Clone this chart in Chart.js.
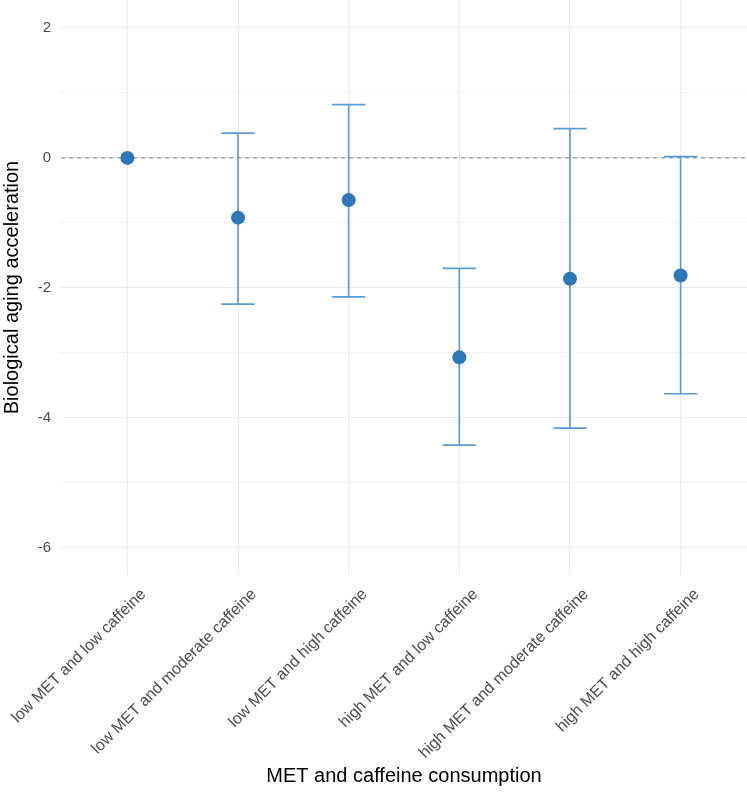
<!DOCTYPE html>
<html>
<head>
<meta charset="utf-8">
<script src="https://cdn.jsdelivr.net/npm/chart.js@4/dist/chart.umd.min.js"></script>
<style>
  html, body { margin: 0; padding: 0; background: #fff; }
</style>
</head>
<body>
<canvas id="appChart" width="747" height="792"></canvas>
<script>
// 데이터
//--------------------------------------------------------//
const categories = [
  'low MET and low caffeine',
  'low MET and moderate caffeine',
  'low MET and high caffeine',
  'high MET and low caffeine',
  'high MET and moderate caffeine',
  'high MET and high caffeine'
];
const estimates = [0, -0.92, -0.65, -3.07, -1.86, -1.81];
const lowerCI   = [null, -2.25, -2.14, -4.42, -4.16, -3.63];
const upperCI   = [null, 0.38, 0.82, -1.70, 0.45, 0.02];
const yTicks    = [-6, -5, -4, -3, -2, -1, 0, 1, 2];

// 색상
const POINT_COLOR = '#2c78b8';
const BAR_COLOR   = '#5b9bd5';
const GRID_COLOR  = '#ebebeb';
const TEXT_COLOR  = '#4d4d4d';
const FONT        = 'Liberation Sans, Arial, sans-serif';

// 기준선(0) + 오차막대 플러그인
//--------------------------------------------------------//
const errorBarPlugin = {
  id: 'errorBars',
  beforeDatasetsDraw(chart) {
    const ctx = chart.ctx;
    const area = chart.chartArea;
    const x = chart.scales.x;
    const y = chart.scales.y;

    ctx.save();
    // 0 기준 점선
    const y0 = y.getPixelForValue(0);
    ctx.strokeStyle = '#808080';
    ctx.lineWidth = 1;
    ctx.setLineDash([4, 4]);
    ctx.beginPath();
    ctx.moveTo(area.left, y0);
    ctx.lineTo(area.right, y0);
    ctx.stroke();
    ctx.setLineDash([]);

    // 오차막대
    const half = (x.getPixelForValue(1) - x.getPixelForValue(0)) * 0.15;
    ctx.strokeStyle = BAR_COLOR;
    ctx.lineWidth = 1.7;
    categories.forEach(function(c, i) {
      if (lowerCI[i] == null) return;
      const px = x.getPixelForValue(i);
      const lo = y.getPixelForValue(lowerCI[i]);
      const hi = y.getPixelForValue(upperCI[i]);
      ctx.beginPath();
      ctx.moveTo(px, lo); ctx.lineTo(px, hi);
      ctx.moveTo(px - half, lo); ctx.lineTo(px + half, lo);
      ctx.moveTo(px - half, hi); ctx.lineTo(px + half, hi);
      ctx.stroke();
    });
    ctx.restore();
  }
};

new Chart(document.getElementById('appChart'), {
  type: 'scatter',
  data: {
    datasets: [{
      label: 'estimate',
      data: estimates.map(function(v, i) { return {x: i, y: v}; }),
      pointRadius: 7,
      pointHoverRadius: 7,
      pointBackgroundColor: POINT_COLOR,
      pointBorderWidth: 0
    }]
  },
  options: {
    responsive: false,
    animation: false,
    layout: { padding: 0, autoPadding: false },
    plugins: {
      legend: { display: false },
      tooltip: { enabled: false }
    },
    scales: {
      x: {
        type: 'linear',
        min: -0.6,
        max: 5.6,
        afterBuildTicks: function(axis) {
          axis.ticks = categories.map(function(c, i) { return {value: i}; });
        },
        afterFit: function(axis) {
          axis.height = 217;
          axis.paddingLeft = 0;
          axis.paddingRight = 0;
        },
        grid: { color: GRID_COLOR, lineWidth: 1, drawTicks: false },
        border: { display: false },
        ticks: {
          autoSkip: false,
          minRotation: 45,
          maxRotation: 45,
          padding: 10,
          labelOffset: 16,
          color: TEXT_COLOR,
          font: { family: FONT, size: 16 },
          callback: function(v) { return categories[v]; }
        },
        title: {
          display: true,
          text: 'MET and caffeine consumption',
          color: '#000',
          padding: { top: 4, bottom: 4 },
          font: { family: FONT, size: 20 }
        }
      },
      y: {
        min: -6.42,
        max: 2.43,
        afterBuildTicks: function(axis) {
          axis.ticks = yTicks.map(function(v) { return {value: v}; });
        },
        afterFit: function(axis) {
          axis.width = 61;
          axis.paddingTop = 0;
          axis.paddingBottom = 0;
        },
        grid: {
          color: GRID_COLOR,
          drawTicks: false,
          lineWidth: function(ctx) { return ctx.tick && ctx.tick.value % 2 === 0 ? 1 : 0.7; }
        },
        border: { display: false },
        ticks: {
          padding: 10,
          color: TEXT_COLOR,
          font: { family: FONT, size: 15 },
          callback: function(v) { return v % 2 === 0 ? String(v) : ''; }
        },
        title: {
          display: true,
          text: 'Biological aging acceleration',
          color: '#000',
          padding: { top: 0, bottom: 2 },
          font: { family: FONT, size: 20 }
        }
      }
    }
  },
  plugins: [errorBarPlugin]
});
</script>
</body>
</html>
